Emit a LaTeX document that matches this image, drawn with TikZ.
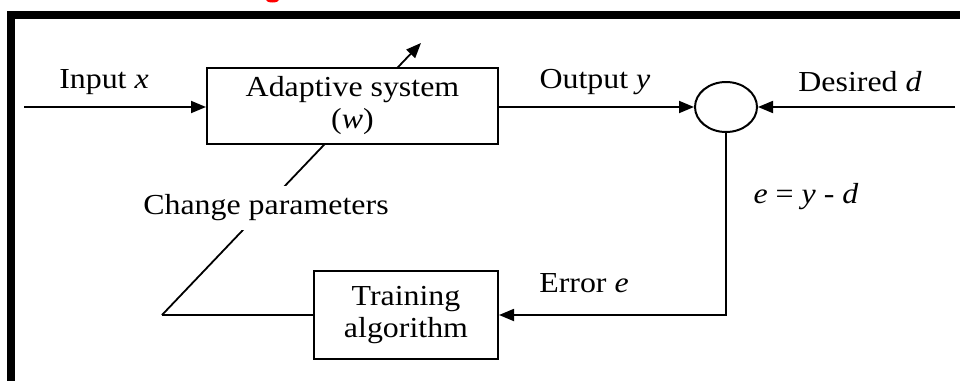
\documentclass[tikz,border=0pt]{standalone}
\usepackage{fontspec}
\setmainfont{Liberation Serif}[FakeStretch=1.1]
\usetikzlibrary{arrows.meta,shapes.geometric}
\tikzset{
  ln/.style={line width=1.8pt, draw=black},
  arr/.style={ln, -{Triangle[length=15pt,width=12pt]}},
  blockbox/.style={draw, line width=2pt, fill=white, align=center, inner sep=0pt},
  lbl/.style={inner sep=0pt},
}
\begin{document}
\begin{tikzpicture}[x=1pt,y=-1pt, font=\fontsize{29}{32}\selectfont]
\useasboundingbox (0,0) rectangle (960,380);
\begin{scope}
  \clip (0,0) rectangle (960,380);
  \draw[line width=8pt] (11,15) rectangle (990,410);
  \fill[red] (272.5,0) ellipse (6.5 and 2.5);
\end{scope}
% diagonal parameter line (drawn first, nodes cover it)
\coordinate (p0) at (162,315);
\coordinate (p1) at (421,43);
\draw[arr] (p0) -- (p1);
% nodes
\node[blockbox, minimum width=291pt, minimum height=76pt] (adapt) at (352.5,106) {Adaptive system\\(\textit{w})};
\node[blockbox, minimum width=184pt, minimum height=88pt] (train) at (406,315) {Training\\algorithm};
\node[draw, ellipse, line width=2pt, minimum width=62pt, minimum height=50pt, inner sep=0pt] (sum) at (726,107) {};
\node[lbl, fill=white, inner xsep=2pt, inner ysep=9pt] (chg) at (266,208) {Change parameters};
\node[lbl] (lin) at (104,82) {Input \textit{x}};
\node[lbl] (lout) at (595,82) {Output \textit{y}};
\node[lbl] (ldes) at (860,82) {Desired \textit{d}};
\node[lbl] (leq) at (806,197) {\textit{e} = \textit{y} - \textit{d}};
\node[lbl] (lerr) at (584,283) {Error \textit{e}};
% coordinates
\coordinate (in) at (24,107);
\coordinate (des) at (955,107);
\coordinate (corner) at (726,315);
% connectors
\draw[arr] (in) -- (adapt.west |- in);
\draw[arr] (adapt.east |- sum.west) -- (sum.west);
\draw[arr] (des) -- (sum.east);
\draw[arr] (sum.south) -- (corner) -- (train.east);
\draw[ln] (train.west) -- (p0);
\end{tikzpicture}
\end{document}
